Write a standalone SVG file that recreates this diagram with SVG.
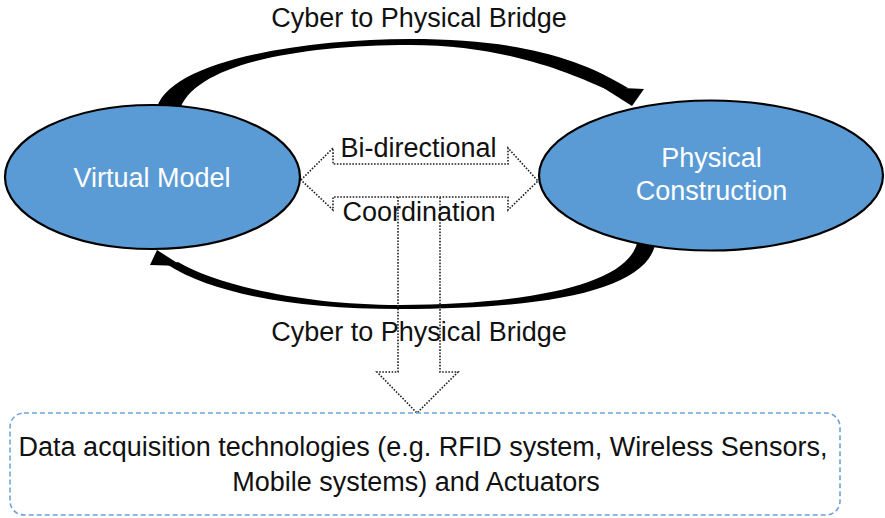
<svg xmlns="http://www.w3.org/2000/svg" width="885" height="518" viewBox="0 0 885 518">
  <style>
    .lbl { font-family: "Liberation Sans", Arial, Helvetica, sans-serif; font-size: 27px; fill: #111; text-anchor: middle; }
    .node-lbl { font-family: "Liberation Sans", Arial, Helvetica, sans-serif; font-size: 27px; fill: #ffffff; text-anchor: middle; }
    .node { fill: #5b9bd5; stroke: #000; stroke-width: 2.2; }
    .dotted { fill: none; stroke: #222; stroke-width: 1.6; stroke-dasharray: 1.6 1.5; stroke-linejoin: miter; }
    .bridge { fill: #000; stroke: none; }
    .box { fill: #fff; stroke: #6fa3d8; stroke-width: 1.6; stroke-dasharray: 5 3; }
  </style>
  <rect width="885" height="518" fill="#fff"/>

  <!-- curved bridge arrows between the two nodes -->
  <g id="connectors">
    <!-- upper bridge: virtual -> physical -->
    <path class="bridge" d="M156,112 C163,62 300,39 410,39 C510,39 575,55 628,88 L610,91 C570,73 505,45 410,45 C300,45 192,64 179,112 Z"/>
    <polygon class="bridge" points="602,87 644,89 632,106"/>
    <!-- lower bridge: physical -> virtual -->
    <path class="bridge" d="M656,238 C654,287 560,309 400,309 C290,309 210,292 168,265 L178,262 C215,284 300,305 400,305 C540,304 634,282 638,238 Z"/>
    <polygon class="bridge" points="150,265 182,266 157,250"/>
    <!-- bi-directional coordination arrow -->
    <polygon class="dotted" points="301,180 333,148 333,164 508,164 508,148 538,181 508,210 508,197 333,197 333,210"/>
    <!-- downward arrow to data acquisition layer -->
    <polyline class="dotted" points="398,197 398,372 377,372 417,413 458,372 440,372 440,197"/>
  </g>

  <g id="virtual-model">
    <ellipse class="node" cx="152.5" cy="177" rx="147.5" ry="72"/>
    <text class="node-lbl" x="152" y="187">Virtual Model</text>
  </g>

  <g id="physical-construction">
    <ellipse class="node" cx="711" cy="175.5" rx="172" ry="75"/>
    <text class="node-lbl" x="711.5" y="167">Physical</text>
    <text class="node-lbl" x="711.5" y="200">Construction</text>
  </g>

  <g id="labels">
    <text class="lbl" x="419" y="27">Cyber to Physical Bridge</text>
    <text class="lbl" x="419" y="341">Cyber to Physical Bridge</text>
    <text class="lbl" x="418.5" y="157">Bi-directional</text>
    <text class="lbl" x="419" y="221">Coordination</text>
  </g>

  <g id="data-acquisition">
    <rect class="box" x="10" y="413" width="830" height="102" rx="14"/>
    <text class="lbl" x="423" y="456">Data acquisition technologies (e.g. RFID system, Wireless Sensors,</text>
    <text class="lbl" x="416" y="491">Mobile systems) and Actuators</text>
  </g>
</svg>
